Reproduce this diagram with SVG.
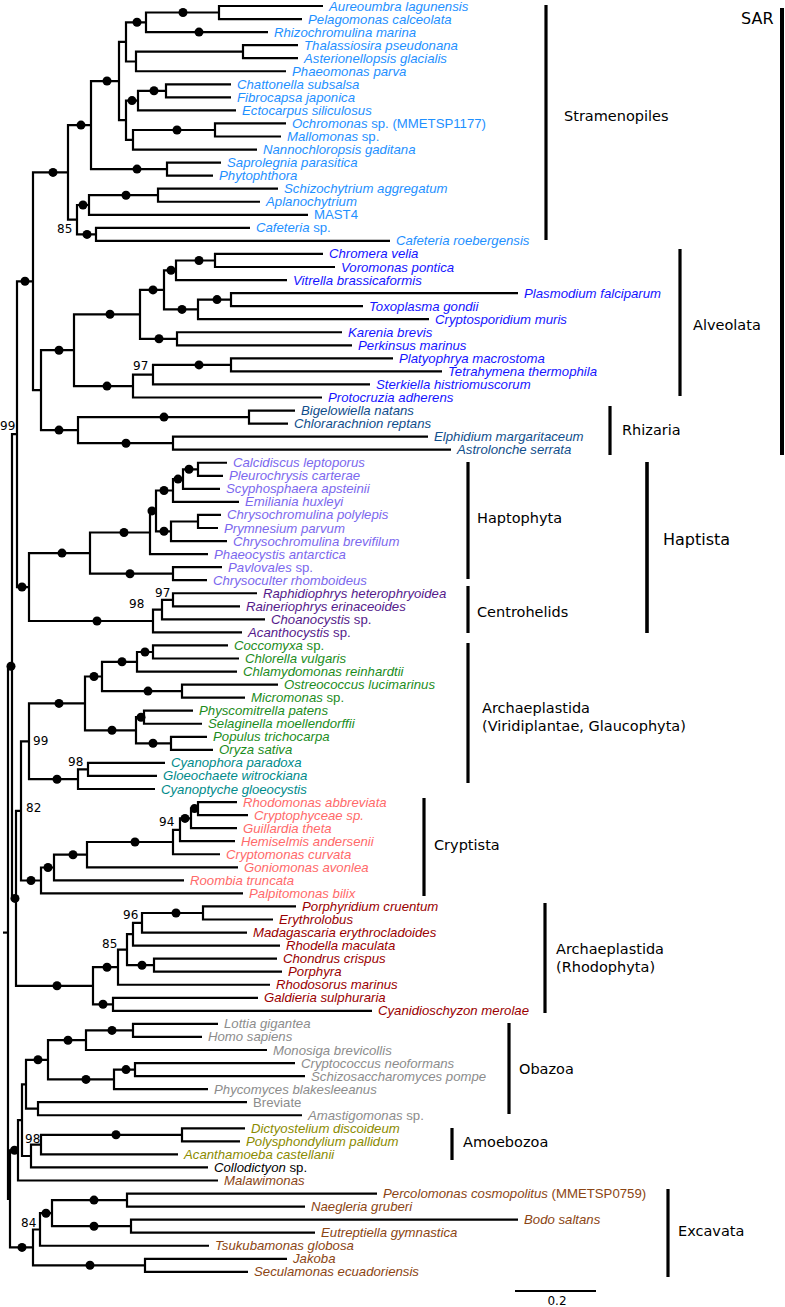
<svg xmlns="http://www.w3.org/2000/svg" width="785" height="1307" viewBox="0 0 785 1307">
<style>
.t{font-family:"Liberation Sans",Arial,sans-serif;font-size:13.2px;font-style:italic}
.n{font-style:normal}
.c{font-family:"DejaVu Sans",Verdana,sans-serif;font-size:14.5px;fill:#000}
.big{font-size:16px}
.b{font-family:"DejaVu Sans",Verdana,sans-serif;font-size:12px;fill:#000}
.br{fill:none;stroke:#000;stroke-width:2.2}
.bar{stroke:#000;stroke-width:3.2}
.d{fill:#000}
.st{fill:#1e90ff}.al{fill:#1414ff}.rh{fill:#104e8b}.ha{fill:#7b68ee}.ce{fill:#551a8b}
.vi{fill:#1c8c1c}.gl{fill:#008b8b}.cr{fill:#ff6a6a}.rd{fill:#9a0000}.ob{fill:#8c8c8c}
.am{fill:#8b8b00}.ex{fill:#8b4513}.bk{fill:#000}
</style>
<rect width="785" height="1307" fill="#fff"/>
<g id="connectors" class="br">
<path d="M323 6H219V19.05H302"/><path d="M219 12.5H146V32.1H268"/><path d="M298 45.15H243V58.2H298"/><path d="M243 51.7H136V71.25H286"/><path d="M146 22.3H126V61.5H136"/><path d="M231 84.3H166V97.35H231"/><path d="M166 90.8H138V110.4H236"/><path d="M286 123.45H215V136.5H281"/><path d="M215 130H133V149.55H257"/><path d="M138 100.6H126V139.8H133"/><path d="M126 41.9H119V120.2H126"/><path d="M221 162.6H167V175.65H213"/><path d="M119 81.05H91V169.1H167"/><path d="M278 188.7H158V201.75H260"/><path d="M158 195.2H89V214.8H308"/><path d="M250 227.85H96V240.9H390"/><path d="M89 205H77V234.4H96"/><path d="M91 125.1H68V219.7H77"/>
<path d="M323 253.95H215V267H335"/><path d="M215 260.5H176V280.05H287"/><path d="M518 293.1H231V306.15H363"/><path d="M231 299.6H198V319.2H429"/><path d="M176 270.3H164V309.4H198"/><path d="M342 332.25H177V345.3H352"/><path d="M164 289.9H140V338.8H177"/><path d="M393 358.35H231V371.4H442"/><path d="M231 364.9H153V384.45H370"/><path d="M153 374.7H133V397.5H322"/><path d="M140 314.3H74V386.1H133"/>
<path d="M295 410.55H249V423.6H288"/><path d="M428 436.65H173V449.7H451"/><path d="M249 417.1H78V443.2H173"/><path d="M74 350.2H41V430.1H78"/><path d="M68 172.4H33V390.2H41"/>
<path d="M227 462.75H198V475.8H223"/><path d="M198 469.3H183V488.85H220"/><path d="M183 479.1H173V501.9H239"/><path d="M221 514.95H198V528H218"/><path d="M198 521.5H171V541.05H227"/><path d="M173 490.5H156V531.3H171"/><path d="M156 510.9H150V554.1H208"/><path d="M222 567.15H173V580.2H207"/><path d="M150 532.5H90V573.7H173"/><path d="M257 593.25H173V606.3H240"/><path d="M173 599.8H162V619.35H265"/><path d="M162 609.6H153V632.4H242"/><path d="M90 553.1H29V621H153"/><path d="M33 281.3H17V587.05H29"/>
<path d="M228 645.45H153V658.5H239"/><path d="M153 652H137V671.55H237"/><path d="M278 684.6H182V697.65H245"/><path d="M137 661.8H102V691.1H182"/><path d="M193 710.7H144V723.75H202"/><path d="M207 736.8H171V749.85H213"/><path d="M144 717.2H136V743.3H171"/><path d="M102 676.5H85V730.3H136"/><path d="M165 762.9H88V775.95H157"/><path d="M88 769.4H78V789H155"/><path d="M85 703.4H29V779.2H78"/>
<path d="M237 802.05H198V815.1H248"/><path d="M198 808.6H191V828.15H237"/><path d="M191 818.4H180V841.2H235"/><path d="M180 829.8H173V854.25H220"/><path d="M173 842H87V867.3H238"/><path d="M87 854.7H54V880.35H184"/><path d="M54 867.5H41V893.4H243"/><path d="M29 741.3H21V880.5H41"/>
<path d="M296 906.45H203V919.5H273"/><path d="M203 913H142V932.55H247"/><path d="M142 922.8H133V945.6H280"/><path d="M277 958.65H154V971.7H282"/><path d="M133 934.2H127V965.2H154"/><path d="M127 949.7H118V984.75H270"/><path d="M258 997.8H113V1010.85H372"/><path d="M118 967.2H93V1004.3H113"/><path d="M21 810.9H16V985.8H93"/><path d="M17 434.2H12V898.4H16"/>
<path d="M218 1023.9H133V1036.95H202"/><path d="M133 1030.4H86V1050H267"/><path d="M295 1063.05H135V1076.1H305"/><path d="M135 1069.6H114V1089.15H208"/><path d="M86 1040.2H48V1079.4H114"/><path d="M247 1102.2H38V1115.25H302"/><path d="M48 1059.8H26V1108.7H38"/><path d="M245 1128.3H182V1141.35H240"/><path d="M182 1134.8H41V1154.4H178"/><path d="M41 1144.6H31V1167.45H208"/><path d="M26 1084.3H22V1156H31"/><path d="M22 1120.2H18V1180.5H218"/>
<path d="M377 1193.55H127V1206.6H305"/><path d="M518 1219.65H131V1232.7H315"/><path d="M127 1200.1H52V1226.2H131"/><path d="M52 1213.2H40V1245.75H209"/><path d="M287 1258.8H145V1271.85H248"/><path d="M40 1229.5H33V1265.3H145"/><path d="M18 1150.3H10V1247.4H33"/>
<path d="M12 666.3H8V1198.9H10"/><path d="M3 932.6H8"/>
</g>
<g id="support-dots" class="d">
<circle cx="183" cy="12.5" r="4.5"/><circle cx="199" cy="32.1" r="4.5"/><circle cx="137" cy="22.3" r="4.5"/><circle cx="154" cy="90.8" r="4.5"/><circle cx="177" cy="130" r="4.5"/><circle cx="132" cy="100.6" r="4.5"/><circle cx="107" cy="81.05" r="4.5"/><circle cx="137" cy="169.1" r="4.5"/><circle cx="126" cy="195.2" r="4.5"/><circle cx="83" cy="205" r="4.5"/><circle cx="87" cy="234.4" r="4.5"/><circle cx="81" cy="125.1" r="4.5"/><circle cx="53" cy="172.4" r="4.5"/><circle cx="25" cy="281.3" r="4.5"/>
<circle cx="199" cy="260.5" r="4.5"/><circle cx="217" cy="299.6" r="4.5"/><circle cx="171" cy="270.3" r="4.5"/><circle cx="182" cy="309.4" r="4.5"/><circle cx="153" cy="289.9" r="4.5"/><circle cx="159" cy="338.8" r="4.5"/><circle cx="199" cy="364.9" r="4.5"/><circle cx="110" cy="314.3" r="4.5"/><circle cx="107" cy="386.1" r="4.5"/><circle cx="59" cy="350.2" r="4.5"/><circle cx="164" cy="417.1" r="4.5"/><circle cx="126" cy="443.2" r="4.5"/><circle cx="59" cy="430.1" r="4.5"/>
<circle cx="189" cy="469.3" r="4.5"/><circle cx="178" cy="479.1" r="4.5"/><circle cx="164" cy="490.5" r="4.5"/><circle cx="164" cy="531.3" r="4.5"/><circle cx="152" cy="510.9" r="4.5"/><circle cx="124" cy="532.5" r="4.5"/><circle cx="130" cy="573.7" r="4.5"/><circle cx="62" cy="553.1" r="4.5"/><circle cx="97" cy="621" r="4.5"/><circle cx="22" cy="587.05" r="4.5"/>
<circle cx="145" cy="652" r="4.5"/><circle cx="122" cy="661.8" r="4.5"/><circle cx="148" cy="691.1" r="4.5"/><circle cx="94" cy="676.5" r="4.5"/><circle cx="141" cy="717.2" r="4.5"/><circle cx="153" cy="743.3" r="4.5"/><circle cx="112" cy="730.3" r="4.5"/><circle cx="59" cy="703.4" r="4.5"/><circle cx="57" cy="779.2" r="4.5"/><circle cx="11" cy="666.3" r="4.5"/>
<circle cx="194.5" cy="808.6" r="4.5"/><circle cx="185" cy="818.4" r="4.5"/><circle cx="135" cy="842" r="4.5"/><circle cx="73" cy="854.7" r="4.5"/><circle cx="48" cy="867.5" r="4.5"/><circle cx="31" cy="880.5" r="4.5"/>
<circle cx="176" cy="913" r="4.5"/><circle cx="142" cy="965.2" r="4.5"/><circle cx="107" cy="967.2" r="4.5"/><circle cx="103" cy="1004.3" r="4.5"/><circle cx="57" cy="985.8" r="4.5"/><circle cx="15" cy="898.4" r="4.5"/>
<circle cx="112" cy="1030.4" r="4.5"/><circle cx="126" cy="1069.6" r="4.5"/><circle cx="68" cy="1040.2" r="4.5"/><circle cx="86" cy="1079.4" r="4.5"/><circle cx="38" cy="1059.8" r="4.5"/><circle cx="116" cy="1134.8" r="4.5"/><circle cx="14.5" cy="1150.3" r="4.5"/>
<circle cx="94" cy="1200.1" r="4.5"/><circle cx="94" cy="1226.2" r="4.5"/><circle cx="46" cy="1213.2" r="4.5"/><circle cx="90" cy="1265.3" r="4.5"/><circle cx="22" cy="1247.4" r="4.5"/>
</g>
<g id="support-values" class="b">
<text x="57" y="233">85</text><text x="133" y="370">97</text><text x="0" y="430">99</text><text x="155" y="597">97</text><text x="129" y="608">98</text><text x="33" y="745">99</text><text x="68" y="766">98</text><text x="26" y="812">82</text><text x="159" y="826">94</text><text x="123" y="919">96</text><text x="102" y="948">85</text><text x="25" y="1143">98</text><text x="21" y="1227">84</text>
</g>
<g id="taxa" class="t">
<g id="tx1" class="st"><text x="329" y="10.5">Aureoumbra lagunensis</text></g>
<g id="tx2" class="st"><text x="308" y="23.55">Pelagomonas calceolata</text></g>
<g id="tx3" class="st"><text x="274" y="36.6">Rhizochromulina marina</text></g>
<g id="tx4" class="st"><text x="304" y="49.65">Thalassiosira pseudonana</text></g>
<g id="tx5" class="st"><text x="304" y="62.7">Asterionellopsis glacialis</text></g>
<g id="tx6" class="st"><text x="292" y="75.75">Phaeomonas parva</text></g>
<g id="tx7" class="st"><text x="237" y="88.8">Chattonella subsalsa</text></g>
<g id="tx8" class="st"><text x="237" y="101.85">Fibrocapsa japonica</text></g>
<g id="tx9" class="st"><text x="242" y="114.9">Ectocarpus siliculosus</text></g>
<g id="tx10" class="st"><text x="292" y="127.95">Ochromonas<tspan class="n"> sp. (MMETSP1177)</tspan></text></g>
<g id="tx11" class="st"><text x="287" y="141">Mallomonas<tspan class="n"> sp.</tspan></text></g>
<g id="tx12" class="st"><text x="263" y="154.05">Nannochloropsis gaditana</text></g>
<g id="tx13" class="st"><text x="227" y="167.1">Saprolegnia parasitica</text></g>
<g id="tx14" class="st"><text x="219" y="180.15">Phytophthora</text></g>
<g id="tx15" class="st"><text x="284" y="193.2">Schizochytrium aggregatum</text></g>
<g id="tx16" class="st"><text x="266" y="206.25">Aplanochytrium</text></g>
<g id="tx17" class="st"><text x="314" y="219.3" class="n">MAST4</text></g>
<g id="tx18" class="st"><text x="256" y="232.35">Cafeteria<tspan class="n"> sp.</tspan></text></g>
<g id="tx19" class="st"><text x="396" y="245.4">Cafeteria roebergensis</text></g>
<g id="tx20" class="al"><text x="329" y="258.45">Chromera velia</text></g>
<g id="tx21" class="al"><text x="341" y="271.5">Voromonas pontica</text></g>
<g id="tx22" class="al"><text x="293" y="284.55">Vitrella brassicaformis</text></g>
<g id="tx23" class="al"><text x="524" y="297.6">Plasmodium falciparum</text></g>
<g id="tx24" class="al"><text x="369" y="310.65">Toxoplasma gondii</text></g>
<g id="tx25" class="al"><text x="435" y="323.7">Cryptosporidium muris</text></g>
<g id="tx26" class="al"><text x="348" y="336.75">Karenia brevis</text></g>
<g id="tx27" class="al"><text x="358" y="349.8">Perkinsus marinus</text></g>
<g id="tx28" class="al"><text x="399" y="362.85">Platyophrya macrostoma</text></g>
<g id="tx29" class="al"><text x="448" y="375.9">Tetrahymena thermophila</text></g>
<g id="tx30" class="al"><text x="376" y="388.95">Sterkiella histriomuscorum</text></g>
<g id="tx31" class="al"><text x="328" y="402">Protocruzia adherens</text></g>
<g id="tx32" class="rh"><text x="301" y="415.05">Bigelowiella natans</text></g>
<g id="tx33" class="rh"><text x="294" y="428.1">Chlorarachnion reptans</text></g>
<g id="tx34" class="rh"><text x="434" y="441.15">Elphidium margaritaceum</text></g>
<g id="tx35" class="rh"><text x="457" y="454.2">Astrolonche serrata</text></g>
<g id="tx36" class="ha"><text x="233" y="467.25">Calcidiscus leptoporus</text></g>
<g id="tx37" class="ha"><text x="229" y="480.3">Pleurochrysis carterae</text></g>
<g id="tx38" class="ha"><text x="226" y="493.35">Scyphosphaera apsteinii</text></g>
<g id="tx39" class="ha"><text x="245" y="506.4">Emiliania huxleyi</text></g>
<g id="tx40" class="ha"><text x="227" y="519.45">Chrysochromulina polylepis</text></g>
<g id="tx41" class="ha"><text x="224" y="532.5">Prymnesium parvum</text></g>
<g id="tx42" class="ha"><text x="233" y="545.55">Chrysochromulina brevifilum</text></g>
<g id="tx43" class="ha"><text x="214" y="558.6">Phaeocystis antarctica</text></g>
<g id="tx44" class="ha"><text x="228" y="571.65">Pavlovales<tspan class="n"> sp.</tspan></text></g>
<g id="tx45" class="ha"><text x="213" y="584.7">Chrysoculter rhomboideus</text></g>
<g id="tx46" class="ce"><text x="263" y="597.75">Raphidiophrys heterophryoidea</text></g>
<g id="tx47" class="ce"><text x="246" y="610.8">Raineriophrys erinaceoides</text></g>
<g id="tx48" class="ce"><text x="271" y="623.85">Choanocystis<tspan class="n"> sp.</tspan></text></g>
<g id="tx49" class="ce"><text x="248" y="636.9">Acanthocystis<tspan class="n"> sp.</tspan></text></g>
<g id="tx50" class="vi"><text x="234" y="649.95">Coccomyxa<tspan class="n"> sp.</tspan></text></g>
<g id="tx51" class="vi"><text x="245" y="663">Chlorella vulgaris</text></g>
<g id="tx52" class="vi"><text x="243" y="676.05">Chlamydomonas reinhardtii</text></g>
<g id="tx53" class="vi"><text x="284" y="689.1">Ostreococcus lucimarinus</text></g>
<g id="tx54" class="vi"><text x="251" y="702.15">Micromonas<tspan class="n"> sp.</tspan></text></g>
<g id="tx55" class="vi"><text x="199" y="715.2">Physcomitrella patens</text></g>
<g id="tx56" class="vi"><text x="208" y="728.25">Selaginella moellendorffii</text></g>
<g id="tx57" class="vi"><text x="213" y="741.3">Populus trichocarpa</text></g>
<g id="tx58" class="vi"><text x="219" y="754.35">Oryza sativa</text></g>
<g id="tx59" class="gl"><text x="171" y="767.4">Cyanophora paradoxa</text></g>
<g id="tx60" class="gl"><text x="163" y="780.45">Gloeochaete witrockiana</text></g>
<g id="tx61" class="gl"><text x="161" y="793.5">Cyanoptyche gloeocystis</text></g>
<g id="tx62" class="cr"><text x="243" y="806.55">Rhodomonas abbreviata</text></g>
<g id="tx63" class="cr"><text x="254" y="819.6">Cryptophyceae sp.</text></g>
<g id="tx64" class="cr"><text x="243" y="832.65">Guillardia theta</text></g>
<g id="tx65" class="cr"><text x="241" y="845.7">Hemiselmis andersenii</text></g>
<g id="tx66" class="cr"><text x="226" y="858.75">Cryptomonas curvata</text></g>
<g id="tx67" class="cr"><text x="244" y="871.8">Goniomonas avonlea</text></g>
<g id="tx68" class="cr"><text x="190" y="884.85">Roombia truncata</text></g>
<g id="tx69" class="cr"><text x="249" y="897.9">Palpitomonas bilix</text></g>
<g id="tx70" class="rd"><text x="302" y="910.95">Porphyridium cruentum</text></g>
<g id="tx71" class="rd"><text x="279" y="924">Erythrolobus</text></g>
<g id="tx72" class="rd"><text x="253" y="937.05">Madagascaria erythrocladoides</text></g>
<g id="tx73" class="rd"><text x="286" y="950.1">Rhodella maculata</text></g>
<g id="tx74" class="rd"><text x="283" y="963.15">Chondrus crispus</text></g>
<g id="tx75" class="rd"><text x="288" y="976.2">Porphyra</text></g>
<g id="tx76" class="rd"><text x="276" y="989.25">Rhodosorus marinus</text></g>
<g id="tx77" class="rd"><text x="264" y="1002.3">Galdieria sulphuraria</text></g>
<g id="tx78" class="rd"><text x="378" y="1015.35">Cyanidioschyzon merolae</text></g>
<g id="tx79" class="ob"><text x="224" y="1028.4">Lottia gigantea</text></g>
<g id="tx80" class="ob"><text x="208" y="1041.45">Homo sapiens</text></g>
<g id="tx81" class="ob"><text x="273" y="1054.5">Monosiga brevicollis</text></g>
<g id="tx82" class="ob"><text x="301" y="1067.55">Cryptococcus neoformans</text></g>
<g id="tx83" class="ob"><text x="311" y="1080.6">Schizosaccharomyces pompe</text></g>
<g id="tx84" class="ob"><text x="214" y="1093.65">Phycomyces blakesleeanus</text></g>
<g id="tx85" class="ob"><text x="253" y="1106.7" class="n">Breviate</text></g>
<g id="tx86" class="ob"><text x="308" y="1119.75">Amastigomonas<tspan class="n"> sp.</tspan></text></g>
<g id="tx87" class="am"><text x="251" y="1132.8">Dictyostelium discoideum</text></g>
<g id="tx88" class="am"><text x="246" y="1145.85">Polysphondylium pallidum</text></g>
<g id="tx89" class="am"><text x="184" y="1158.9">Acanthamoeba castellanii</text></g>
<g id="tx90" class="bk"><text x="214" y="1171.95">Collodictyon<tspan class="n"> sp.</tspan></text></g>
<g id="tx91" class="ex"><text x="224" y="1185">Malawimonas</text></g>
<g id="tx92" class="ex"><text x="383" y="1198.05">Percolomonas cosmopolitus<tspan class="n"> (MMETSP0759)</tspan></text></g>
<g id="tx93" class="ex"><text x="311" y="1211.1">Naegleria gruberi</text></g>
<g id="tx94" class="ex"><text x="524" y="1224.15">Bodo saltans</text></g>
<g id="tx95" class="ex"><text x="321" y="1237.2">Eutreptiella gymnastica</text></g>
<g id="tx96" class="ex"><text x="215" y="1250.25">Tsukubamonas globosa</text></g>
<g id="tx97" class="ex"><text x="293" y="1263.3">Jakoba</text></g>
<g id="tx98" class="ex"><text x="254" y="1276.35">Seculamonas ecuadoriensis</text></g>
</g>
<g id="clade-stramenopiles"><line class="bar" x1="546" y1="5" x2="546" y2="240"/><text class="c" x="564" y="121">Stramenopiles</text></g>
<g id="clade-sar"><line class="bar" x1="782" y1="8" x2="782" y2="455" style="stroke-width:4"/><text class="c big" x="741" y="24">SAR</text></g>
<g id="clade-alveolata"><line class="bar" x1="680" y1="249" x2="680" y2="396"/><text class="c" x="693" y="330">Alveolata</text></g>
<g id="clade-rhizaria"><line class="bar" x1="610" y1="406" x2="610" y2="455"/><text class="c" x="622" y="435">Rhizaria</text></g>
<g id="clade-haptophyta"><line class="bar" x1="468" y1="462" x2="468" y2="579"/><text class="c" x="477" y="523">Haptophyta</text></g>
<g id="clade-centrohelids"><line class="bar" x1="468" y1="586" x2="468" y2="633"/><text class="c" x="477" y="617">Centrohelids</text></g>
<g id="clade-haptista"><line class="bar" x1="647" y1="462" x2="647" y2="633" style="stroke-width:3.6"/><text class="c big" x="663" y="545">Haptista</text></g>
<g id="clade-archaeplastida-vg"><line class="bar" x1="468" y1="643" x2="468" y2="783"/><text class="c" x="482" y="713">Archaeplastida</text><text class="c" x="482" y="731">(Viridiplantae, Glaucophyta)</text></g>
<g id="clade-cryptista"><line class="bar" x1="424" y1="798" x2="424" y2="896"/><text class="c" x="434" y="850">Cryptista</text></g>
<g id="clade-archaeplastida-r"><line class="bar" x1="545" y1="903" x2="545" y2="1013"/><text class="c" x="556" y="954">Archaeplastida</text><text class="c" x="556" y="972">(Rhodophyta)</text></g>
<g id="clade-obazoa"><line class="bar" x1="509" y1="1023" x2="509" y2="1114"/><text class="c" x="519" y="1074">Obazoa</text></g>
<g id="clade-amoebozoa"><line class="bar" x1="452" y1="1128" x2="452" y2="1160"/><text class="c" x="463" y="1147">Amoebozoa</text></g>
<g id="clade-excavata"><line class="bar" x1="668" y1="1189" x2="668" y2="1277"/><text class="c" x="678" y="1236">Excavata</text></g>
<g id="scale-bar"><line x1="515" y1="1291" x2="596" y2="1291" stroke="#000" stroke-width="2"/><text class="b" x="557" y="1305" text-anchor="middle">0.2</text></g>
</svg>
